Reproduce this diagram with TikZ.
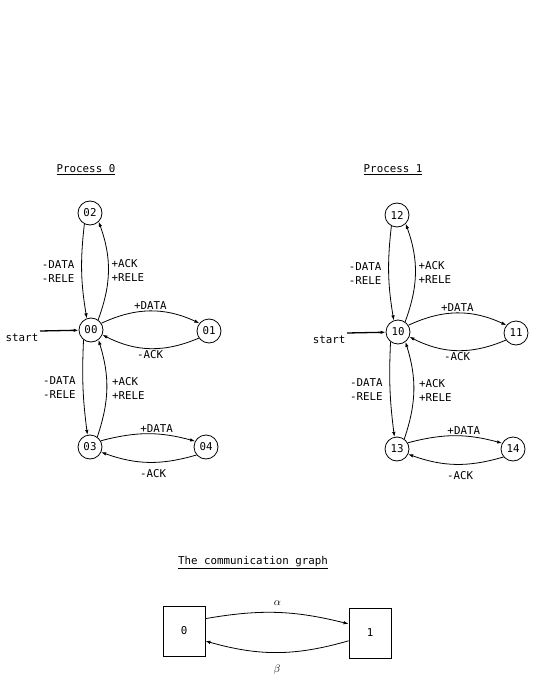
\documentclass[tikz,border=0pt]{standalone}
\usepackage{amsmath}
\usepackage{fontspec}
\setmonofont{DejaVu Sans Mono}
\usetikzlibrary{arrows.meta,positioning}
\newcommand{\tty}{\fontsize{10.8}{14}\selectfont\ttfamily}
\tikzset{
	state/.style={draw, circle, minimum size=24pt, inner sep=0pt, line width=0.8pt, font=\tty},
	lbl/.style={font=\tty, align=left, inner sep=1pt},
	trans/.style={-{Latex[length=5pt,width=3.5pt]}, line width=0.8pt},
	proc/.style={draw, rectangle, minimum width=42pt, minimum height=50pt, line width=0.8pt, font=\tty}
}

\begin{document}
\begin{tikzpicture}[x=1pt, y=-1pt]
	\useasboundingbox (0,0) rectangle (535,692);
	% Process 0
	\begin{scope}
		\node[lbl] (t0) at (86,170) {\underline{Process 0}};
		\node[state] (s00) at (91,330) {00};
		\node[state] (s02) at (90,213) {02};
		\node[state] (s01) at (209,331) {01};
		\node[state] (s03) at (90,447) {03};
		\node[state] (s04) at (206,447) {04};
		\node[lbl] (st0) at (22,338) {start};
		\coordinate (in0) at (40,331);
		\draw[trans, line width=1.3pt] (in0) -- (s00);
		\draw[trans] (s02.243) to[bend right=8] node[left=6pt, lbl] {-DATA\\-RELE} (s00.110);
		\draw[trans] (s00.55) to[bend right=20] node[right=2pt, lbl] {+ACK\\+RELE} (s02.-45);
		\draw[trans] (s00.233) to[bend right=5] node[left=6pt, lbl] {-DATA\\-RELE} (s03.102);
		\draw[trans] (s03.54) to[bend right=18] node[right=4pt, lbl] {+ACK\\+RELE} (s00.-53);
		\draw[trans] (s00.33) to[bend left=25] node[above, lbl] {+DATA} (s01.141);
		\draw[trans] (s01.215) to[bend left=25] node[below=1pt, lbl] {-ACK} (s00.-23);
		\draw[trans] (s03.30) to[bend left=15] node[above, pos=0.6, lbl] {+DATA} (s04.152);
		\draw[trans] (s04.220) to[bend left=18] node[below=6pt, pos=0.45, lbl] {-ACK} (s03.-25);
	\end{scope}
	% Process 1
	\begin{scope}[shift={(307,2)}]
		\node[lbl] (t1) at (86,168) {\underline{Process 1}};
		\node[state] (s10) at (91,330) {10};
		\node[state] (s12) at (90,213) {12};
		\node[state] (s11) at (209,331) {11};
		\node[state] (s13) at (90,447) {13};
		\node[state] (s14) at (206,447) {14};
		\node[lbl] (st1) at (22,338) {start};
		\coordinate (in1) at (40,331);
		\draw[trans, line width=1.3pt] (in1) -- (s10);
		\draw[trans] (s12.243) to[bend right=8] node[left=6pt, lbl] {-DATA\\-RELE} (s10.110);
		\draw[trans] (s10.55) to[bend right=20] node[right=2pt, lbl] {+ACK\\+RELE} (s12.-45);
		\draw[trans] (s10.233) to[bend right=5] node[left=6pt, lbl] {-DATA\\-RELE} (s13.102);
		\draw[trans] (s13.54) to[bend right=18] node[right=4pt, lbl] {+ACK\\+RELE} (s10.-53);
		\draw[trans] (s10.33) to[bend left=25] node[above, lbl] {+DATA} (s11.141);
		\draw[trans] (s11.215) to[bend left=25] node[below=1pt, lbl] {-ACK} (s10.-23);
		\draw[trans] (s13.30) to[bend left=15] node[above, pos=0.6, lbl] {+DATA} (s14.152);
		\draw[trans] (s14.220) to[bend left=18] node[below=6pt, pos=0.45, lbl] {-ACK} (s13.-25);
	\end{scope}
	% communication graph
	\node[lbl] (tc) at (253,563) {\underline{The communication graph}};
	\node[proc] (p0) at (184,631) {0};
	\node[proc] (p1) at (370,633) {1};
	\draw[trans] (p0.30) to[bend left=12] node[above=6pt, lbl] {$\alpha$} (p1.157);
	\draw[trans] (p1.200) to[bend left=16] node[below=11pt, lbl] {$\beta$} (p0.-25);
\end{tikzpicture}
\end{document}
